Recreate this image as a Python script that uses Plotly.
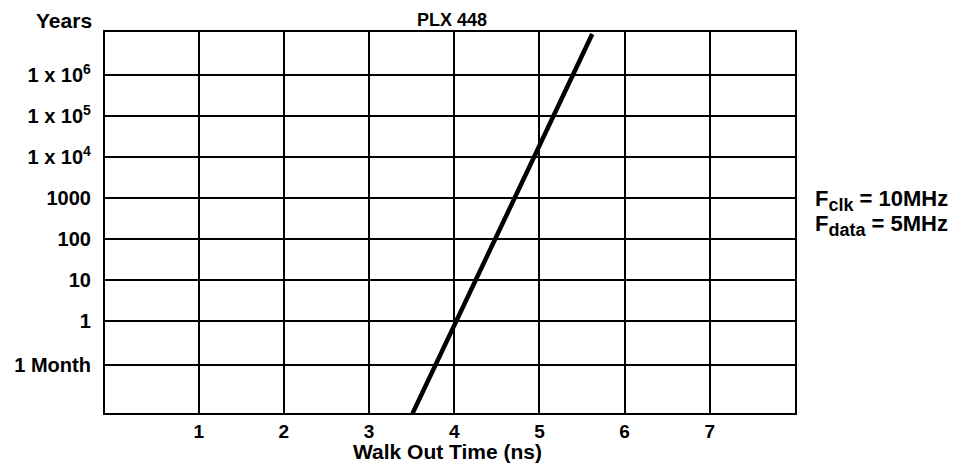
import plotly.graph_objects as go

# Data
walk_out_ns = [3.51, 5.62]
years = [0.0056, 1.0e7]

x_ticks = [1, 2, 3, 4, 5, 6, 7]
y_tickvals = [1e6, 1e5, 1e4, 1000, 100, 10, 1, 1/12]
y_ticktext = ["1 x 10<sup>6</sup>", "1 x 10<sup>5</sup>", "1 x 10<sup>4</sup>",
              "1000", "100", "10", "1", "1 Month"]

FONT = "Liberation Sans, Arial, Helvetica, sans-serif"
OFF = 8  # page body margin

fig = go.Figure()
fig.add_trace(go.Scatter(x=walk_out_ns, y=years, mode="lines",
                         line=dict(color="black", width=4.5),
                         showlegend=False, hoverinfo="skip"))

W, H = 966 - 2 * OFF, 473 - 2 * OFF
PL, PR, PT, PB = 105, 795, 32, 413  # plot area in page pixels
L, R, T, B = PL - OFF, W - (PR - OFF), PT - OFF, H - (PB - OFF)

fig.update_layout(
    width=W, height=H,
    margin=dict(l=L, r=R, t=T, b=B, autoexpand=False),
    paper_bgcolor="white", plot_bgcolor="white",
    font=dict(family=FONT, color="black", weight="bold"),
    xaxis=dict(range=[-0.1, 8.0], tickvals=x_ticks, ticktext=[str(v) for v in x_ticks],
               showgrid=True, gridcolor="black", gridwidth=1.8,
               showline=True, linecolor="black", linewidth=2.2, mirror=True,
               zeroline=False, ticks="", ticklen=0, ticklabelstandoff=0, automargin=False,
               tickfont=dict(size=19, family=FONT, weight="bold")),
    yaxis=dict(type="log", range=[-2.24, 7.05], tickvals=y_tickvals, ticktext=y_ticktext,
               showgrid=True, gridcolor="black", gridwidth=1.8,
               showline=True, linecolor="black", linewidth=2.2, mirror=True,
               zeroline=False, ticks="", ticklen=0, ticklabelstandoff=8, automargin=False,
               tickfont=dict(size=20, family=FONT, weight="bold")),
)

pw = W - L - R
ph = H - T - B

def px(x):
    return (x - OFF - L) / pw

def py(y):
    return (H - B - (y - OFF)) / ph

SUB = "<sub><span style='font-size:18px'>{}</span></sub>"

fig.add_annotation(text="PLX 448", x=px(452), y=py(8), xref="paper", yref="paper",
                   showarrow=False, font=dict(size=18, family=FONT, weight="bold"),
                   xanchor="center", yanchor="top")
fig.add_annotation(text="Years", x=px(94), y=py(20), xref="paper", yref="paper",
                   showarrow=False, font=dict(size=21, family=FONT, weight="bold"),
                   xanchor="right", yanchor="middle")
fig.add_annotation(text="Walk Out Time (ns)", x=px(447), y=py(451), xref="paper", yref="paper",
                   showarrow=False, font=dict(size=21, family=FONT, weight="bold"),
                   xanchor="center", yanchor="middle")
fig.add_annotation(text="F" + SUB.format("clk") + " = 10MHz", x=px(813), y=py(201), xref="paper", yref="paper",
                   showarrow=False, font=dict(size=22, family=FONT, weight="bold"),
                   xanchor="left", yanchor="middle")
fig.add_annotation(text="F" + SUB.format("data") + " = 5MHz", x=px(813), y=py(225), xref="paper", yref="paper",
                   showarrow=False, font=dict(size=22, family=FONT, weight="bold"),
                   xanchor="left", yanchor="middle")

fig.write_html("out.html")
